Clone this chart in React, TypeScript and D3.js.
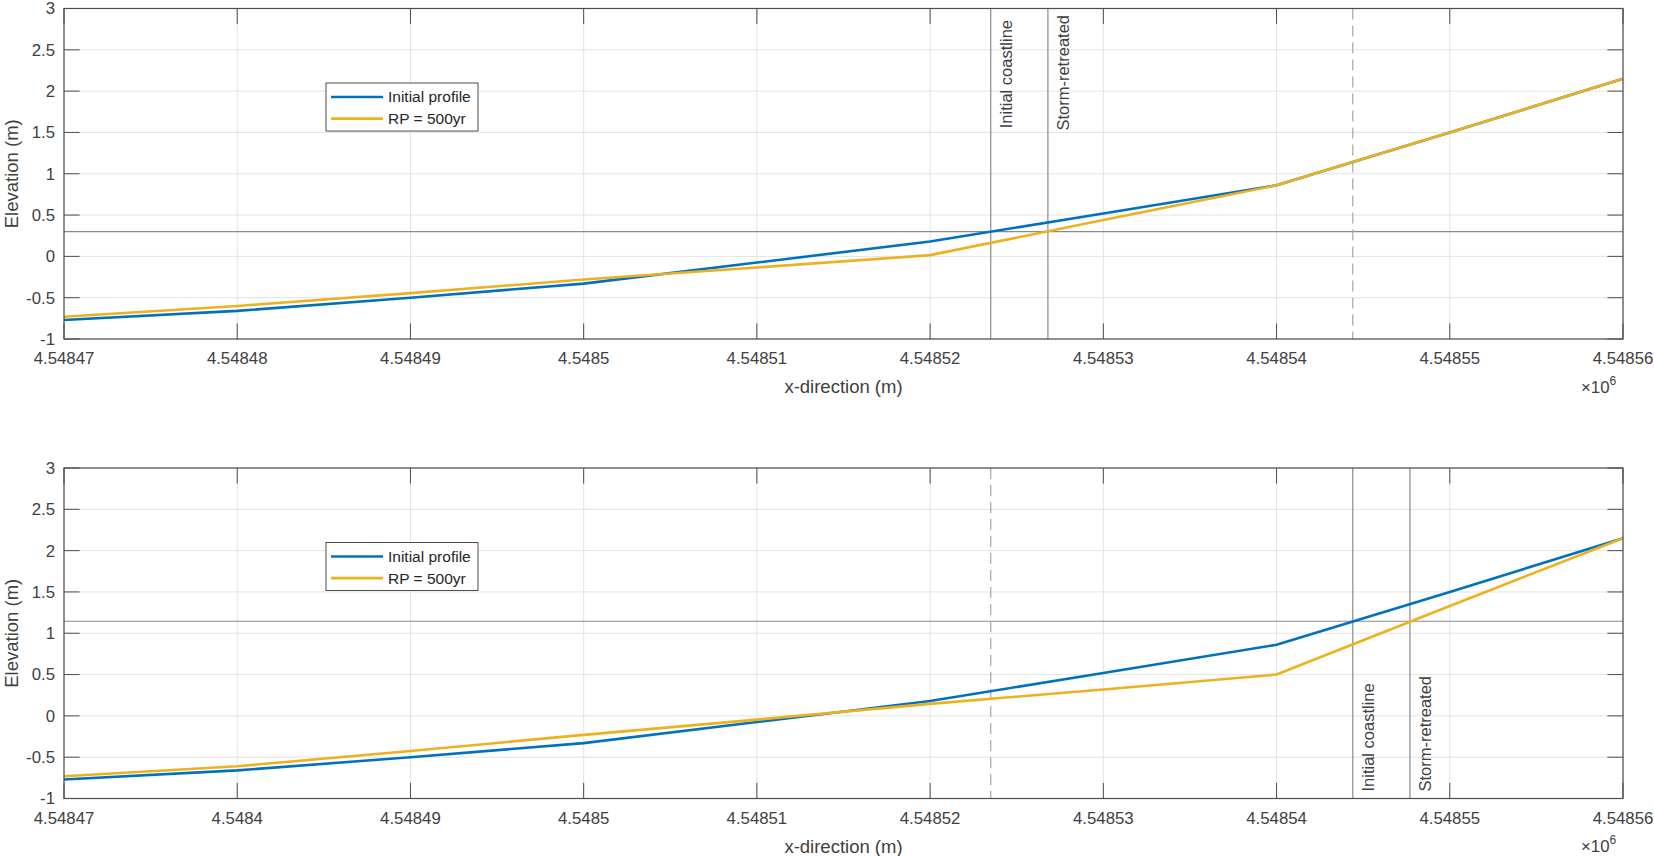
import * as d3 from 'd3';

// cross-shore positions (m)
const xPos = [4548470, 4548480, 4548490, 4548500, 4548510, 4548520, 4548530, 4548540, 4548550, 4548560];

// elevation profiles (m)
const initialProfile = [-0.77, -0.66, -0.5, -0.33, -0.075, 0.18, 0.52, 0.86, 1.5, 2.15];
const rp500Top = [-0.73, -0.6, -0.445, -0.28, -0.135, 0.015, 0.44, 0.86, 1.5, 2.15];
const rp500Bottom = [-0.73, -0.61, -0.425, -0.23, -0.045, 0.145, 0.32, 0.5, 1.33, 2.15];

// water levels and coastline positions
const waterLevels = [0.3, 1.145];
const initialCoast = [4548523.5, 4548544.4];
const stormCoast = [4548526.8, 4548547.7];
const dashedCoast = [4548544.4, 4548523.5];

const yTicks = [-1, -0.5, 0, 0.5, 1, 1.5, 2, 2.5, 3];
const yTickLabels = ['-1', '-0.5', '0', '0.5', '1', '1.5', '2', '2.5', '3'];
const xTickLabelsTop = ['4.54847', '4.54848', '4.54849', '4.5485', '4.54851', '4.54852', '4.54853', '4.54854', '4.54855', '4.54856'];
const xTickLabelsBottom = ['4.54847', '4.5484', '4.54849', '4.5485', '4.54851', '4.54852', '4.54853', '4.54854', '4.54855', '4.54856'];
const seriesNames = ['Initial profile', 'RP = 500yr'];

const W = 1654;
const H = 856;
const FONT = '"Liberation Sans", Arial, Helvetica, sans-serif';
const BLUE = '#0072bd';
const ORANGE = '#edb120';
const AXIS = '#4d4d4d';
const TEXT = '#404040';
const GRID = '#e3e3e3';
const REF = '#8a8a8a';

interface PanelProps {
    top: number;
    rp: number[];
    water: number;
    initX: number;
    stormX: number;
    dashX: number;
    xLabels: string[];
    labelsAtTop: boolean;
}

function Panel({ top, rp, water, initX, stormX, dashX, xLabels, labelsAtTop }: PanelProps) {
    const left = 64;
    const right = 1623;
    const bottom = top + 330.5;

    const x = d3.scaleLinear().domain([4548470, 4548560]).range([left, right]);
    const y = d3.scaleLinear().domain([-1, 3]).range([bottom, top]);
    const line = d3.line<number>().x((_, i) => x(xPos[i])).y(d => y(d));
    const tickLen = 15.6;

    const textProps = (lx: number, label: string, endY: number) =>
        labelsAtTop ? (
            <text
                transform={`translate(${x(lx) + 21},${endY}) rotate(-90)`}
                textAnchor="end"
                fontSize={16.5}
                fill={TEXT}
            >{label}</text>
        ) : (
            <text
                transform={`translate(${x(lx) + 21},${bottom - 7}) rotate(-90)`}
                textAnchor="start"
                fontSize={16.5}
                fill={TEXT}
            >{label}</text>
        );

    const legX = 326;
    const legY = top + 74.5;

    return (
        <g fontFamily={FONT}>
            {/* grid */}
            {xPos.map(v => (
                <line key={'gx' + v} x1={x(v)} x2={x(v)} y1={top} y2={bottom} stroke={GRID} strokeWidth={1} />
            ))}
            {yTicks.map(v => (
                <line key={'gy' + v} x1={left} x2={right} y1={y(v)} y2={y(v)} stroke={GRID} strokeWidth={1} />
            ))}

            {/* ticks */}
            {xPos.map(v => (
                <g key={'tx' + v}>
                    <line x1={x(v)} x2={x(v)} y1={bottom} y2={bottom - tickLen} stroke={AXIS} />
                    <line x1={x(v)} x2={x(v)} y1={top} y2={top + tickLen} stroke={AXIS} />
                </g>
            ))}
            {yTicks.map(v => (
                <g key={'ty' + v}>
                    <line x1={left} x2={left + tickLen} y1={y(v)} y2={y(v)} stroke={AXIS} />
                    <line x1={right} x2={right - tickLen} y1={y(v)} y2={y(v)} stroke={AXIS} />
                </g>
            ))}

            {/* reference lines */}
            <line x1={left} x2={right} y1={y(water)} y2={y(water)} stroke={REF} strokeWidth={1.2} />
            <line x1={x(initX)} x2={x(initX)} y1={top} y2={bottom} stroke={REF} strokeWidth={1.2} />
            <line x1={x(stormX)} x2={x(stormX)} y1={top} y2={bottom} stroke={REF} strokeWidth={1.2} />
            <line x1={x(dashX)} x2={x(dashX)} y1={top} y2={bottom} stroke="#a6a6a6" strokeWidth={1.2} strokeDasharray="11,6" />
            {textProps(initX, 'Initial coastline', top + 11.5)}
            {textProps(stormX, 'Storm-retreated', top + 6.5)}

            {/* profiles */}
            <path d={line(initialProfile) ?? ''} fill="none" stroke={BLUE} strokeWidth={2.6} strokeLinejoin="round" />
            <path d={line(rp) ?? ''} fill="none" stroke={ORANGE} strokeWidth={2.6} strokeLinejoin="round" />

            {/* box */}
            <rect x={left} y={top} width={right - left} height={bottom - top} fill="none" stroke={AXIS} strokeWidth={1.2} />

            {/* tick labels */}
            {xPos.map((v, i) => (
                <text key={'lx' + v} x={x(v)} y={bottom + 25} textAnchor="middle" fontSize={16.8} fill={TEXT}>
                    {xLabels[i]}
                </text>
            ))}
            {yTicks.map((v, i) => (
                <text key={'ly' + v} x={55} y={y(v)} dy="0.35em" textAnchor="end" fontSize={16.8} fill={TEXT}>
                    {yTickLabels[i]}
                </text>
            ))}
            <text x={1581} y={bottom + 53.5} fontSize={16.8} fill={TEXT}>
                ×10<tspan dy={-8} fontSize={12}>6</tspan>
            </text>

            {/* axis labels */}
            <text x={(left + right) / 2} y={bottom + 54} textAnchor="middle" fontSize={18.5} fill={TEXT}>x-direction (m)</text>
            <text transform={`translate(18,${(top + bottom) / 2}) rotate(-90)`} textAnchor="middle" fontSize={18.5} fill={TEXT}>Elevation (m)</text>

            {/* legend */}
            <rect x={legX} y={legY} width={152} height={48} fill="#fff" stroke={AXIS} strokeWidth={1} />
            {seriesNames.map((name, i) => {
                const ry = legY + 14 + i * 21.6;
                return (
                    <g key={name}>
                        <line x1={legX + 5} x2={legX + 57} y1={ry} y2={ry} stroke={i === 0 ? BLUE : ORANGE} strokeWidth={2.6} />
                        <text x={legX + 62} y={ry} dy="0.35em" fontSize={15.5} fill="#262626">{name}</text>
                    </g>
                );
            })}
        </g>
    );
}

export default function App() {
    return (
        <svg
            width={W}
            height={H}
            viewBox={`0 0 ${W} ${H}`}
            style={{ position: 'absolute', left: 0, top: 0, background: '#fff' }}
        >
            <rect width={W} height={H} fill="#fff" />
            <Panel
                top={8.5}
                rp={rp500Top}
                water={waterLevels[0]}
                initX={initialCoast[0]}
                stormX={stormCoast[0]}
                dashX={dashedCoast[0]}
                xLabels={xTickLabelsTop}
                labelsAtTop={true}
            />
            <Panel
                top={468}
                rp={rp500Bottom}
                water={waterLevels[1]}
                initX={initialCoast[1]}
                stormX={stormCoast[1]}
                dashX={dashedCoast[1]}
                xLabels={xTickLabelsBottom}
                labelsAtTop={false}
            />
        </svg>
    );
}
